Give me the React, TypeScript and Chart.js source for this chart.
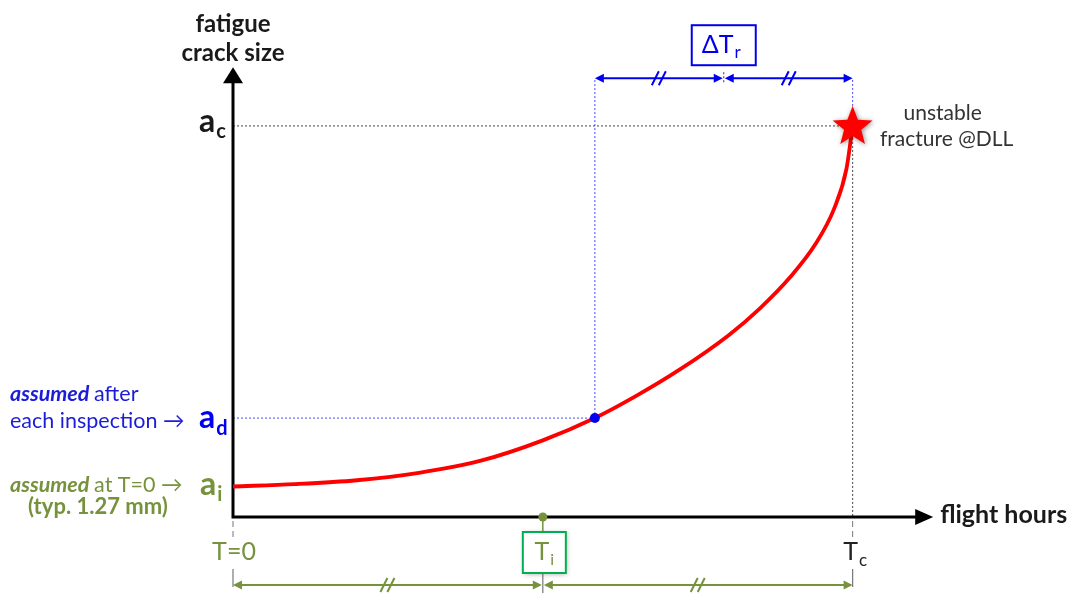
import React, { useEffect, useRef } from "react";
import { Chart, registerables } from "chart.js";

Chart.register(...registerables);

// ---- data ----
const flightHours = [0, 10, 20, 30, 40, 50, 58.4, 65, 72, 80, 85, 90, 94, 97, 99, 100];
const crackSize = [7.8, 8.4, 9.4, 11.3, 14.4, 19.6, 25.3, 30.9, 37.6, 46.5, 53.3, 61.5, 69.8, 78.8, 89.0, 100];

const T_I = 50; // inspection threshold
const T_D = 58.4; // time at which a_d is reached
const T_C = 100; // critical time
const A_I = 7.8;
const A_D = 25.3;
const A_C = 100;
const X_MAX = 112;
const Y_MAX = 112;
const X_ARROW = 113;
const Y_ARROW = 115;
const DT_LEVEL = 112.2; // level of the ΔTr dimension line

const yAxisTitle = ["fatigue", "crack size"];
const xAxisTitle = "flight hours";
const timeLabels = { start: "T=0", inspection: ["T", "i"], critical: ["T", "c"] };
const sizeLabels = { initial: ["a", "i"], detect: ["a", "d"], critical: ["a", "c"] };
const failureText = ["unstable", "fracture @DLL"];
const repeatLabel = ["ΔT", "r"];

const FONT = 'Lato, "Open Sans", "DejaVu Sans", sans-serif';
const RED = "#FF0000";
const BLUE = "#0000F0";
const BLUE_TEXT = "#1C1CD8";
const OLIVE = "#76923C";
const GREEN_BOX = "#00B050";
const DARK = "#1a1a1a";

function drawSub(
  ctx: CanvasRenderingContext2D,
  x: number,
  y: number,
  main: string,
  sub: string,
  mainFont: string,
  subFont: string,
  color: string,
  subDrop: number,
  align: "left" | "center" | "right" = "left"
) {
  ctx.font = mainFont;
  const mw = ctx.measureText(main).width;
  ctx.font = subFont;
  const sw = ctx.measureText(sub).width;
  let sx = x;
  if (align === "center") sx = x - mw / 2;
  if (align === "right") sx = x - mw - sw - 1;
  ctx.fillStyle = color;
  ctx.textAlign = "left";
  ctx.textBaseline = "alphabetic";
  ctx.font = mainFont;
  ctx.fillText(main, sx, y);
  ctx.font = subFont;
  ctx.fillText(sub, sx + mw + 1, y + subDrop);
}

function line(ctx: CanvasRenderingContext2D, x1: number, y1: number, x2: number, y2: number) {
  ctx.beginPath();
  ctx.moveTo(x1, y1);
  ctx.lineTo(x2, y2);
  ctx.stroke();
}

function arrowHead(ctx: CanvasRenderingContext2D, tx: number, ty: number, dir: "l" | "r" | "u", len: number, half: number) {
  ctx.beginPath();
  ctx.moveTo(tx, ty);
  if (dir === "r") {
    ctx.lineTo(tx - len, ty - half);
    ctx.lineTo(tx - len, ty + half);
  } else if (dir === "l") {
    ctx.lineTo(tx + len, ty - half);
    ctx.lineTo(tx + len, ty + half);
  } else {
    ctx.lineTo(tx - half, ty + len);
    ctx.lineTo(tx + half, ty + len);
  }
  ctx.closePath();
  ctx.fill();
}

function slashes(ctx: CanvasRenderingContext2D, cx: number, cy: number) {
  for (const off of [-3.5, 3.5]) line(ctx, cx + off - 3.5, cy + 7, cx + off + 3.5, cy - 7);
}

function dimension(ctx: CanvasRenderingContext2D, x1: number, x2: number, y: number, color: string) {
  ctx.strokeStyle = color;
  ctx.fillStyle = color;
  ctx.lineWidth = 2;
  ctx.setLineDash([]);
  line(ctx, x1 + 4, y, x2 - 4, y);
  arrowHead(ctx, x1, y, "l", 9, 4.5);
  arrowHead(ctx, x2, y, "r", 9, 4.5);
  ctx.lineWidth = 2;
  slashes(ctx, (x1 + x2) / 2, y);
}

function star(ctx: CanvasRenderingContext2D, cx: number, cy: number, ro: number, ri: number) {
  ctx.beginPath();
  for (let i = 0; i < 10; i++) {
    const r = i % 2 === 0 ? ro : ri;
    const a = -Math.PI / 2 + (i * Math.PI) / 5;
    const px = cx + r * Math.cos(a);
    const py = cy + r * Math.sin(a);
    if (i === 0) ctx.moveTo(px, py);
    else ctx.lineTo(px, py);
  }
  ctx.closePath();
  ctx.fill();
}

const diagramPlugin = {
  id: "diagram",
  beforeDatasetsDraw(chart: any) {
    const { ctx, scales } = chart;
    const px = (v: number) => scales.x.getPixelForValue(v);
    const py = (v: number) => scales.y.getPixelForValue(v);
    const ox = px(0);
    const oy = py(0);
    ctx.save();

    // dotted guide lines
    ctx.lineWidth = 1;
    ctx.setLineDash([2, 2]);
    ctx.strokeStyle = "#444";
    line(ctx, ox, py(A_C), px(T_C), py(A_C));
    line(ctx, px(T_C), py(A_C), px(T_C), oy);
    ctx.strokeStyle = "#4a4aff";
    line(ctx, ox, py(A_D), px(T_D), py(A_D));
    line(ctx, px(T_D), py(A_D), px(T_D), py(DT_LEVEL));
    line(ctx, px(T_C), py(A_C), px(T_C), py(DT_LEVEL));

    // dashed ticks below the time axis
    ctx.strokeStyle = "#777";
    ctx.setLineDash([6, 4]);
    for (const t of [0, T_C]) {
      line(ctx, px(t), oy + 4, px(t), oy + 20);
    }
    ctx.setLineDash([]);
    ctx.lineWidth = 1.2;
    for (const t of [0, T_C]) line(ctx, px(t), oy + 52, px(t), oy + 70);
    line(ctx, px(T_I), oy + 56, px(T_I), oy + 76);

    // axes
    ctx.strokeStyle = "#000";
    ctx.fillStyle = "#000";
    ctx.lineWidth = 3;
    ctx.beginPath();
    ctx.moveTo(ox, py(Y_ARROW) + 14);
    ctx.lineTo(ox, oy);
    ctx.lineTo(px(X_ARROW) - 14, oy);
    ctx.stroke();
    arrowHead(ctx, px(X_ARROW), oy, "r", 18, 8);
    arrowHead(ctx, ox, py(Y_ARROW), "u", 16, 10);

    // inspection marker stem
    ctx.strokeStyle = OLIVE;
    ctx.lineWidth = 1.5;
    line(ctx, px(T_I), oy, px(T_I), oy + 15);

    ctx.restore();
  },
  afterDatasetsDraw(chart: any) {
    const { ctx, scales } = chart;
    const px = (v: number) => scales.x.getPixelForValue(v);
    const py = (v: number) => scales.y.getPixelForValue(v);
    const ox = px(0);
    const oy = py(0);
    ctx.save();

    // star at critical point
    ctx.shadowColor = "rgba(0,0,0,0.45)";
    ctx.shadowBlur = 5;
    ctx.shadowOffsetX = 1;
    ctx.shadowOffsetY = 1;
    ctx.fillStyle = RED;
    star(ctx, px(T_C), py(A_C) + 1, 21, 9);
    ctx.shadowColor = "transparent";
    ctx.shadowBlur = 0;
    ctx.shadowOffsetX = 0;
    ctx.shadowOffsetY = 0;

    // ΔTr dimension
    const mid = (px(T_D) + px(T_C)) / 2;
    const dy = py(DT_LEVEL);
    dimension(ctx, px(T_D), mid - 1, dy, BLUE);
    dimension(ctx, mid + 1, px(T_C), dy, BLUE);
    ctx.strokeStyle = "#333";
    ctx.lineWidth = 1;
    ctx.setLineDash([2, 2]);
    line(ctx, mid, dy - 6, mid, dy + 6);
    ctx.setLineDash([]);
    // ΔTr box
    ctx.strokeStyle = BLUE;
    ctx.lineWidth = 2;
    ctx.fillStyle = "#fff";
    ctx.fillRect(mid - 32, dy - 53, 64, 40);
    ctx.strokeRect(mid - 32, dy - 53, 64, 40);
    drawSub(ctx, mid - 22, dy - 25, repeatLabel[0], repeatLabel[1], `25px ${FONT}`, `17px ${FONT}`, BLUE, 5);

    // bottom dimension (T=0 .. Ti .. Tc)
    const by = oy + 68;
    dimension(ctx, ox, px(T_I) - 1, by, OLIVE);
    ctx.lineWidth = 2;
    line(ctx, px(T_I) + 5, by, px(T_C) - 4, by);
    arrowHead(ctx, px(T_I) + 1, by, "l", 9, 4.5);
    arrowHead(ctx, px(T_C), by, "r", 9, 4.5);
    ctx.lineWidth = 2;
    slashes(ctx, (px(T_I) + px(T_C)) / 2, by);

    // Ti box
    ctx.shadowColor = "rgba(0,0,0,0.35)";
    ctx.shadowBlur = 5;
    ctx.shadowOffsetX = 1;
    ctx.shadowOffsetY = 1;
    ctx.fillStyle = "#fff";
    ctx.fillRect(px(T_I) - 20, oy + 15, 43, 41);
    ctx.shadowColor = "transparent";
    ctx.shadowBlur = 0;
    ctx.shadowOffsetX = 0;
    ctx.shadowOffsetY = 0;
    ctx.strokeStyle = GREEN_BOX;
    ctx.lineWidth = 2;
    ctx.strokeRect(px(T_I) - 20, oy + 15, 43, 41);
    drawSub(ctx, px(T_I) - 1, oy + 43, timeLabels.inspection[0], timeLabels.inspection[1], `25px ${FONT}`, `16px ${FONT}`, OLIVE, 5, "center");

    // T=0 and Tc
    ctx.font = `25px ${FONT}`;
    ctx.fillStyle = OLIVE;
    ctx.textAlign = "center";
    ctx.textBaseline = "alphabetic";
    ctx.fillText(timeLabels.start, ox + 1, oy + 43);
    drawSub(ctx, px(T_C) - 2, oy + 43, timeLabels.critical[0], timeLabels.critical[1], `25px ${FONT}`, `17px ${FONT}`, "#222", 6, "center");

    // axis titles
    ctx.fillStyle = DARK;
    ctx.font = `bold 24px ${FONT}`;
    ctx.textAlign = "center";
    ctx.fillText(yAxisTitle[0], ox, 32);
    ctx.fillText(yAxisTitle[1], ox, 61);
    ctx.textAlign = "left";
    ctx.font = `bold 25px ${FONT}`;
    ctx.fillText(xAxisTitle, px(X_ARROW) + 7, oy + 6);

    // crack size labels
    drawSub(ctx, ox - 34, py(A_C) + 6, sizeLabels.critical[0], sizeLabels.critical[1], `bold 32px ${FONT}`, `bold 20px ${FONT}`, DARK, 6);
    drawSub(ctx, ox - 34, py(A_D) + 10, sizeLabels.detect[0], sizeLabels.detect[1], `bold 32px ${FONT}`, `bold 20px ${FONT}`, BLUE, 7);
    drawSub(ctx, ox - 33, py(A_I) + 9, sizeLabels.initial[0], sizeLabels.initial[1], `bold 32px ${FONT}`, `bold 20px ${FONT}`, OLIVE, 6);

    // left annotations
    const leftX = 10;
    ctx.textAlign = "left";
    ctx.fillStyle = BLUE_TEXT;
    ctx.font = `italic bold 21.5px ${FONT}`;
    ctx.fillText("assumed", leftX, py(A_D) - 17);
    let w = ctx.measureText("assumed ").width;
    ctx.font = `21.5px ${FONT}`;
    ctx.fillText("after", leftX + w, py(A_D) - 17);
    ctx.fillText("each inspection \u2192", leftX, py(A_D) + 10);

    ctx.fillStyle = OLIVE;
    ctx.font = `italic bold 21.5px ${FONT}`;
    ctx.fillText("assumed", leftX, py(A_I) + 6);
    w = ctx.measureText("assumed ").width;
    ctx.font = `21.5px ${FONT}`;
    ctx.fillText("at T=0 \u2192", leftX + w, py(A_I) + 6);
    ctx.font = `bold 22px ${FONT}`;
    ctx.fillText("(typ. 1.27 mm)", 28, oy - 3);

    // failure note
    ctx.fillStyle = "#333";
    ctx.font = `21px ${FONT}`;
    ctx.textAlign = "center";
    ctx.fillText(failureText[0], px(T_C) + 90, py(A_C) - 6);
    ctx.fillText(failureText[1], px(T_C) + 94, py(A_C) + 20);

    ctx.restore();
  },
};

export default function App() {
  const ref = useRef<HTMLCanvasElement | null>(null);
  useEffect(() => {
    if (!ref.current) return;
    const chart = new Chart(ref.current, {
      type: "line",
      data: {
        datasets: [
          {
            type: "scatter",
            data: [{ x: T_D, y: A_D }],
            pointRadius: 5,
            pointBackgroundColor: BLUE,
            pointBorderWidth: 0,
            order: 0,
          } as any,
          {
            type: "scatter",
            data: [{ x: T_I, y: 0 }],
            pointRadius: 4.5,
            pointBackgroundColor: OLIVE,
            pointBorderWidth: 0,
            clip: false,
            order: 0,
          } as any,
          {
            type: "line",
            data: flightHours.map((t, i) => ({ x: t, y: crackSize[i] })),
            borderColor: RED,
            borderWidth: 3.8,
            pointRadius: 0,
            cubicInterpolationMode: "monotone",
            fill: false,
            clip: false,
            order: 1,
          } as any,
        ],
      },
      options: {
        animation: false,
        responsive: false,
        maintainAspectRatio: false,
        layout: { padding: { left: 233, right: 143, top: 79, bottom: 76 } },
        scales: {
          x: { type: "linear", min: 0, max: X_MAX, display: false },
          y: { type: "linear", min: 0, max: Y_MAX, display: false },
        },
        plugins: { legend: { display: false }, tooltip: { enabled: false } },
      },
      plugins: [diagramPlugin],
    });
    return () => chart.destroy();
  }, []);
  return (
    <div style={{ position: "fixed", left: 0, top: 0, width: 1070, height: 593, background: "#fff" }}>
      <canvas ref={ref} width={1070} height={593} style={{ width: 1070, height: 593 }} />
    </div>
  );
}
